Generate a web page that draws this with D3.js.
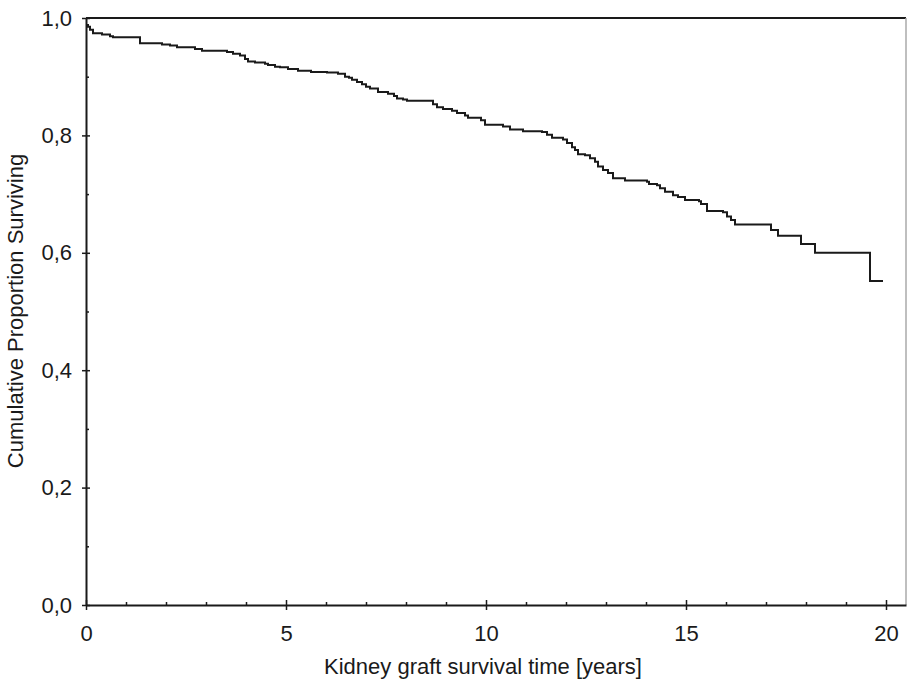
<!DOCTYPE html>
<html>
<head>
<meta charset="utf-8">
<script src="https://cdn.jsdelivr.net/npm/d3@7"></script>
<style>
  html, body { margin: 0; padding: 0; background: #fff; }
  svg { display: block; font-family: "Liberation Sans", Arial, sans-serif; }
</style>
</head>
<body>
<svg id="chart" width="907" height="682"></svg>
<script>
// ---- data ----
const timeYears = [0, 0.05, 0.1, 0.175, 0.4, 0.6, 0.675, 1.35, 1.9, 2.1, 2.275, 2.725, 2.9, 3.525, 3.675, 3.85, 3.975, 4.05, 4.225, 4.475, 4.55, 4.725, 4.85, 5.05, 5.3, 5.625, 6.025, 6.3, 6.475, 6.575, 6.65, 6.775, 6.9, 7.0, 7.1, 7.3, 7.55, 7.7, 7.775, 7.925, 8.025, 8.675, 8.775, 8.925, 9.15, 9.275, 9.475, 9.55, 9.875, 9.975, 10.425, 10.6, 10.925, 11.4, 11.525, 11.65, 11.925, 12.025, 12.15, 12.225, 12.3, 12.475, 12.6, 12.725, 12.8, 12.925, 13.05, 13.175, 13.475, 14.025, 14.075, 14.275, 14.35, 14.475, 14.675, 14.8, 14.975, 15.325, 15.375, 15.525, 15.925, 16.025, 16.125, 16.225, 17.125, 17.3, 17.875, 18.225, 19.6, 19.925];
const survival = [0.988, 0.985, 0.980, 0.974, 0.972, 0.969, 0.967, 0.957, 0.955, 0.953, 0.950, 0.947, 0.944, 0.942, 0.939, 0.936, 0.930, 0.926, 0.924, 0.922, 0.920, 0.917, 0.916, 0.913, 0.910, 0.908, 0.907, 0.905, 0.900, 0.898, 0.895, 0.891, 0.887, 0.883, 0.880, 0.874, 0.871, 0.867, 0.863, 0.861, 0.859, 0.853, 0.848, 0.845, 0.842, 0.838, 0.834, 0.830, 0.826, 0.818, 0.815, 0.810, 0.807, 0.806, 0.801, 0.796, 0.793, 0.787, 0.780, 0.775, 0.768, 0.766, 0.761, 0.755, 0.747, 0.741, 0.736, 0.727, 0.723, 0.721, 0.717, 0.715, 0.710, 0.704, 0.698, 0.695, 0.690, 0.688, 0.683, 0.671, 0.669, 0.662, 0.656, 0.648, 0.639, 0.629, 0.615, 0.600, 0.552, 0.552];
const xMajorTicks = [0, 5, 10, 15, 20];
const xMinorTicks = [1, 2, 3, 4, 6, 7, 8, 9, 11, 12, 13, 14, 16, 17, 18, 19];
const yMajorTicks = [0, 0.2, 0.4, 0.6, 0.8, 1.0];
const yMinorTicks = [0.1, 0.3, 0.5, 0.7, 0.9];
const xLabel = "Kidney graft survival time [years]";
const yLabel = "Cumulative Proportion Surviving";

// ---- layout ----
const plotLeft = 86, plotRight = 906, plotTop = 18, plotBottom = 605;
const svg = d3.select("#chart");
const x = d3.scaleLinear().domain([0, 20.5]).range([plotLeft, plotRight]);
const y = d3.scaleLinear().domain([0, 1]).range([plotBottom, plotTop]);
const ink = "#1a1a1a";
const fontSize = 22;
const fmt = d => d.toFixed(1).replace(".", ",");

// frame: top black, right light gray
svg.append("line").attr("x1", plotLeft).attr("x2", plotRight).attr("y1", plotTop).attr("y2", plotTop)
  .attr("stroke", ink).attr("stroke-width", 2);
svg.append("line").attr("x1", plotRight).attr("x2", plotRight).attr("y1", plotTop).attr("y2", plotBottom)
  .attr("stroke", "#aaa").attr("stroke-width", 1.5);

// minor ticks
const xMinor = svg.append("g").attr("transform", `translate(0,${plotBottom})`)
  .call(d3.axisBottom(x).tickValues(xMinorTicks).tickSize(-3).tickFormat(""));
xMinor.select(".domain").remove();
xMinor.selectAll(".tick line").attr("stroke", ink).attr("stroke-width", 1.5);
const yMinor = svg.append("g").attr("transform", `translate(${plotLeft},0)`)
  .call(d3.axisLeft(y).tickValues(yMinorTicks).tickSize(-3).tickFormat(""));
yMinor.select(".domain").remove();
yMinor.selectAll(".tick line").attr("stroke", ink).attr("stroke-width", 1.5);

// major x axis
const xAxis = svg.append("g").attr("transform", `translate(0,${plotBottom})`)
  .call(d3.axisBottom(x).tickValues(xMajorTicks).tickSizeOuter(0).tickPadding(14).tickFormat(d3.format("d")));
xAxis.select(".domain").attr("stroke", ink).attr("stroke-width", 2);
xAxis.selectAll(".tick line").attr("y1", -5).attr("y2", 5).attr("stroke", ink).attr("stroke-width", 1.5);
xAxis.selectAll(".tick text").attr("font-size", fontSize).attr("fill", ink)
  .attr("font-family", "'Liberation Sans', Arial, sans-serif");

// major y axis
const yAxis = svg.append("g").attr("transform", `translate(${plotLeft},0)`)
  .call(d3.axisLeft(y).tickValues(yMajorTicks).tickSizeOuter(0).tickPadding(8).tickFormat(fmt));
yAxis.select(".domain").attr("stroke", ink).attr("stroke-width", 2);
yAxis.selectAll(".tick line").attr("x1", -4).attr("x2", 4).attr("stroke", ink).attr("stroke-width", 1.5);
yAxis.selectAll(".tick text").attr("font-size", fontSize).attr("fill", ink)
  .attr("font-family", "'Liberation Sans', Arial, sans-serif");

// survival step curve
const pts = timeYears.map((t, i) => [t, survival[i]]);
svg.append("path").datum(pts)
  .attr("fill", "none").attr("stroke", ink).attr("stroke-width", 2)
  .attr("d", d3.line().x(d => x(d[0])).y(d => y(d[1])).curve(d3.curveStepAfter));

// axis labels
svg.append("text").attr("x", 483).attr("y", 674).attr("text-anchor", "middle")
  .attr("font-size", fontSize).attr("fill", ink).text(xLabel);
svg.append("text").attr("transform", "translate(23,311) rotate(-90)").attr("text-anchor", "middle")
  .attr("font-size", fontSize).attr("fill", ink).text(yLabel);
</script>
</body>
</html>
